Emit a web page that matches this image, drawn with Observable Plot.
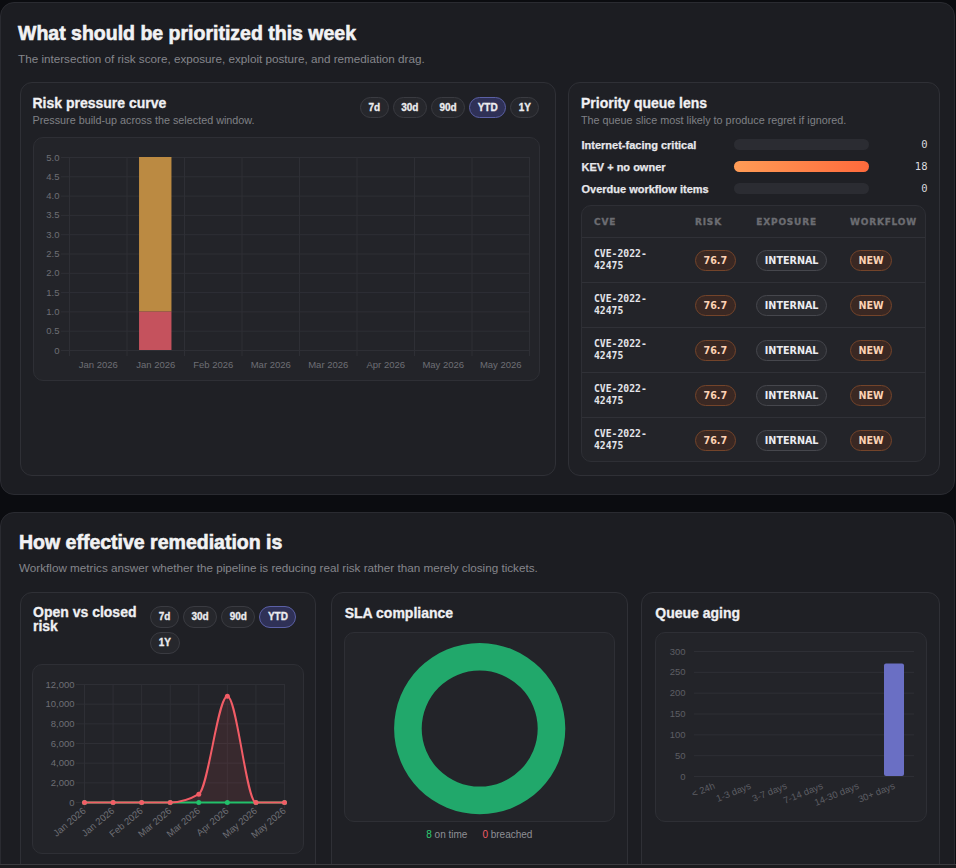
<!DOCTYPE html>
<html><head><meta charset="utf-8">
<script src="https://cdn.jsdelivr.net/npm/d3@7"></script>
<script src="https://cdn.jsdelivr.net/npm/@observablehq/plot@0.6"></script>
<style>
html,body{margin:0;padding:0;background:#0b0c10;width:956px;height:868px;overflow:hidden;font-family:"Liberation Sans",Arial,sans-serif;}
.section{position:absolute;background:#1c1d22;border:1px solid #2a2b31;border-radius:14px;box-sizing:border-box;}
.card{position:absolute;background:#1f2025;border:1px solid #2f3036;border-radius:12px;box-sizing:border-box;}
.box{position:absolute;background:#232429;border:1px solid #2e2f35;border-radius:10px;box-sizing:border-box;}
.h2{position:absolute;font-weight:bold;font-size:19.5px;line-height:20px;color:#f2f2f4;white-space:nowrap;-webkit-text-stroke:0.6px #f2f2f4;}
.sub{position:absolute;font-size:11.7px;line-height:14px;color:#85868c;white-space:nowrap;}
.h3{position:absolute;font-weight:bold;font-size:14px;line-height:16px;color:#f0f0f3;-webkit-text-stroke:0.3px #f0f0f3;}
.sub3{position:absolute;font-size:10.8px;line-height:13px;color:#7f8086;white-space:nowrap;}
.btns{position:absolute;display:flex;flex-wrap:wrap;gap:4px;}
.btn{box-sizing:border-box;border:1px solid #3a3b41;background:#26272c;border-radius:11px;color:#ececef;font-weight:bold;font-size:10px;display:flex;align-items:center;justify-content:center;padding:0 7.5px;-webkit-text-stroke:0.3px #ececef;}
.btn.on{background:#2f3157;border-color:#5b60a6;}
.plot{position:absolute;}
.th{position:absolute;top:0;height:32px;display:flex;align-items:center;font-family:"DejaVu Sans",sans-serif;font-weight:bold;font-size:9px;letter-spacing:0.8px;color:#6c6d72;-webkit-text-stroke:0.3px #6c6d72;}
.row{position:absolute;left:0;right:0;height:45px;border-top:1px solid #303137;box-sizing:border-box;}
.cell{position:absolute;top:0;bottom:0;display:flex;align-items:center;}
.cve{font-family:"DejaVu Sans Mono",monospace;font-weight:bold;font-size:9.75px;line-height:12.7px;color:#e4e4ea;width:60px;}
.pill{box-sizing:border-box;height:21px;border-radius:11px;padding:0 7.5px;display:inline-flex;align-items:center;font-family:"DejaVu Sans",sans-serif;font-weight:bold;font-size:9.6px;}
.pill.warm{background:#3a2823;border:1px solid #74442a;color:#fcd2b4;}
.pill.cool{background:#2a2b30;border:1px solid #46474d;color:#ececf0;}
.legend{position:absolute;display:flex;justify-content:center;gap:15px;font-size:10px;line-height:12px;color:#8e8f95;}
</style>
</head><body>
<div class="section" style="left:0;top:2px;width:955px;height:493px;"></div>
<div class="h2" style="left:18px;top:23px;">What should be prioritized this week</div>
<div class="sub" style="left:18px;top:52px;">The intersection of risk score, exposure, exploit posture, and remediation drag.</div>

<div class="card" style="left:19.5px;top:82px;width:536px;height:394px;"></div>
<div class="h3" style="left:32.5px;top:95.4px;">Risk pressure curve</div>
<div class="sub3" style="left:32.5px;top:113.8px;">Pressure build-up across the selected window.</div>
<div class="btns" id="btnsRisk" style="left:360px;top:96.7px;width:200px;"></div>
<div class="box" style="left:32.7px;top:137.3px;width:507.3px;height:243.4px;"></div>
<div class="plot" id="riskChart" style="left:33px;top:137.3px;"></div>

<div class="card" style="left:567.5px;top:82px;width:372px;height:394px;"></div>
<div class="h3" style="left:581px;top:95px;">Priority queue lens</div>
<div class="sub3" style="left:581px;top:113.8px;">The queue slice most likely to produce regret if ignored.</div>
<div class="plot" id="lensChart" style="left:581px;top:133px;"></div>
<div class="box" id="cveTable" style="left:581.3px;top:205px;width:345px;height:257.3px;background:#232429;"></div>

<div class="section" style="left:0;top:512px;width:955px;height:420px;"></div>
<div class="h2" style="left:19px;top:532.2px;">How effective remediation is</div>
<div class="sub" style="left:19px;top:560.6px;">Workflow metrics answer whether the pipeline is reducing real risk rather than merely closing tickets.</div>

<div class="card" style="left:19.7px;top:592px;width:296.6px;height:330px;"></div>
<div class="h3" style="left:33px;top:604.7px;width:112px;line-height:14.3px;">Open vs closed risk</div>
<div class="btns" id="btnsOpen" style="left:150.3px;top:605.7px;width:150px;"></div>
<div class="box" style="left:32.3px;top:664.3px;width:271.4px;height:190px;"></div>
<div class="plot" id="openChart" style="left:32.3px;top:664.3px;"></div>

<div class="card" style="left:330.7px;top:592px;width:297.3px;height:330px;"></div>
<div class="h3" style="left:344.7px;top:604.7px;">SLA compliance</div>
<div class="box" style="left:344px;top:631.7px;width:270.7px;height:190px;"></div>
<div class="plot" id="slaChart" style="left:344px;top:631.7px;"></div>
<div class="legend" id="slaLegend" style="left:344px;top:829px;width:270.7px;"></div>

<div class="card" style="left:641.3px;top:592px;width:298.4px;height:330px;"></div>
<div class="h3" style="left:655.3px;top:605.3px;">Queue aging</div>
<div class="box" style="left:655.3px;top:631.7px;width:271.4px;height:190px;"></div>
<div class="plot" id="agingChart" style="left:655.3px;top:631.7px;"></div>

<div style="position:absolute;left:0;top:864px;width:956px;height:4px;background:#1b1b1e;border-top:1px solid #3b3b3f;box-sizing:border-box;"></div>

<script>
// ---------- data ----------
const periods = ["7d", "30d", "90d", "YTD", "1Y"];
const activePeriod = "YTD";

const months = ["Jan 2026", "Jan 2026", "Feb 2026", "Mar 2026", "Mar 2026", "Apr 2026", "May 2026", "May 2026"];
const riskSeries = ["Critical", "High"];
const riskCritical = [0, 1, 0, 0, 0, 0, 0, 0];
const riskHigh = [0, 4, 0, 0, 0, 0, 0, 0];
const riskTicks = [0, 0.5, 1, 1.5, 2, 2.5, 3, 3.5, 4, 4.5, 5];

const lensLabels = ["Internet-facing critical", "KEV + no owner", "Overdue workflow items"];
const lensValues = [0, 18, 0];

const cveIds = ["CVE-2022-42475", "CVE-2022-42475", "CVE-2022-42475", "CVE-2022-42475", "CVE-2022-42475"];
const cveRisk = [76.7, 76.7, 76.7, 76.7, 76.7];
const cveExposure = ["INTERNAL", "INTERNAL", "INTERNAL", "INTERNAL", "INTERNAL"];
const cveWorkflow = ["NEW", "NEW", "NEW", "NEW", "NEW"];
const tableHeaders = ["CVE", "RISK", "EXPOSURE", "WORKFLOW"];

const openRisk = [0, 0, 0, 0, 850, 10800, 0, 0];
const closedRisk = [0, 0, 0, 0, 0, 0, 0, 0];
const openTicks = [0, 2000, 4000, 6000, 8000, 10000, 12000];

const slaLabels = ["on time", "breached"];
const slaCounts = [8, 0];

const agingBuckets = ["< 24h", "1-3 days", "3-7 days", "7-14 days", "14-30 days", "30+ days"];
const agingCounts = [0, 0, 0, 0, 0, 270];
const agingTicks = [0, 50, 100, 150, 200, 250, 300];

// ---------- styling ----------
const GRID = "#2e2f35";
const AXIS_FONT = "'Liberation Sans', Arial, sans-serif";
const baseStyle = {background: "transparent", color: "#6e6f75", fontFamily: AXIS_FONT, fontSize: "9.5px", overflow: "visible"};

// ---------- buttons ----------
function buttons(id) {
  const el = document.getElementById(id);
  periods.forEach(p => {
    const b = document.createElement("div");
    b.className = "btn" + (p === activePeriod ? " on" : "");
    b.style.height = id === "btnsRisk" ? "21px" : "22px";
    b.textContent = p;
    el.appendChild(b);
  });
}
buttons("btnsRisk");
buttons("btnsOpen");

// ---------- risk pressure ----------
const riskRows = [];
months.forEach((m, i) => {
  riskRows.push({i, series: riskSeries[0], y1: 0, y2: riskCritical[i]});
  riskRows.push({i, series: riskSeries[1], y1: riskCritical[i], y2: riskCritical[i] + riskHigh[i]});
});
const barPad = 0.218;
document.getElementById("riskChart").appendChild(Plot.plot({
  width: 507, height: 243, marginLeft: 36, marginRight: 11, marginTop: 20, marginBottom: 30,
  style: baseStyle,
  x: {domain: [0, months.length], ticks: months.map((m, i) => i + 0.5), tickFormat: v => months[Math.floor(v)], tickSize: 0, tickPadding: 11, label: null},
  y: {domain: [0, 5], ticks: riskTicks, tickFormat: v => v === 0 ? "0" : v.toFixed(1), tickSize: 0, tickPadding: 10, label: null},
  color: {domain: riskSeries, range: ["#c5525d", "#bb8a42"]},
  marks: [
    Plot.ruleY(riskTicks, {stroke: GRID, insetLeft: -8}),
    Plot.ruleX(d3.range(months.length + 1), {stroke: GRID, insetBottom: -6}),
    Plot.rect(riskRows.filter(d => d.y2 > d.y1), {x1: d => d.i + barPad, x2: d => d.i + 1 - barPad, y1: "y1", y2: "y2", fill: "series"})
  ]
}));

// ---------- priority queue lens ----------
const lensRows = lensLabels.map((label, i) => ({label, value: lensValues[i]}));
const lensMax = d3.max(lensValues);
const lensSvg = Plot.plot({
  width: 346, height: 66, marginLeft: 153, marginRight: 58, marginTop: 0, marginBottom: 0,
  style: {background: "transparent", overflow: "visible", fontFamily: AXIS_FONT},
  x: {domain: [0, lensMax], axis: null},
  y: {domain: lensLabels, paddingInner: 0.5, paddingOuter: 0.25, axis: null},
  marks: [
    Plot.barX(lensRows, {y: "label", x1: 0, x2: lensMax, fill: "#2b2c32", rx: 5.5}),
    Plot.barX(lensRows.filter(d => d.value > 0), {y: "label", x: "value", fill: "url(#lensGrad)", rx: 5.5}),
    Plot.text(lensRows, {y: "label", text: "label", frameAnchor: "left", textAnchor: "start", dx: -153, fill: "#e7e7eb", stroke: "#e7e7eb", strokeWidth: 0.25, fontWeight: "bold", fontSize: 11}),
    Plot.text(lensRows, {y: "label", text: d => String(d.value), frameAnchor: "right", textAnchor: "end", dx: 58, fill: "#d9d9de", fontFamily: "DejaVu Sans Mono, monospace", fontSize: 10.5})
  ]
});
{
  const ns = "http://www.w3.org/2000/svg";
  const defs = document.createElementNS(ns, "defs");
  const lg = document.createElementNS(ns, "linearGradient");
  lg.setAttribute("id", "lensGrad");
  [["0%", "#ff9c56"], ["100%", "#ff6a3c"]].forEach(([o, c]) => {
    const s = document.createElementNS(ns, "stop");
    s.setAttribute("offset", o); s.setAttribute("stop-color", c); lg.appendChild(s);
  });
  defs.appendChild(lg);
  lensSvg.insertBefore(defs, lensSvg.firstChild);
}
document.getElementById("lensChart").appendChild(lensSvg);

// ---------- CVE table ----------
{
  const t = document.getElementById("cveTable");
  const colX = [11.7, 112.7, 174, 267.7];
  let html = "";
  tableHeaders.forEach((h, j) => { html += `<div class="th" style="left:${colX[j]}px">${h}</div>`; });
  cveIds.forEach((id, i) => {
    const parts = id.split("-");
    const idHtml = parts.slice(0, 2).join("-") + "-<wbr>" + parts.slice(2).join("-");
    html += `<div class="row" style="top:${31.3 + 45 * i}px">
      <div class="cell" style="left:${colX[0]}px"><div class="cve">${idHtml}</div></div>
      <div class="cell" style="left:${colX[1]}px"><span class="pill warm">${cveRisk[i].toFixed(1)}</span></div>
      <div class="cell" style="left:${colX[2]}px"><span class="pill cool">${cveExposure[i]}</span></div>
      <div class="cell" style="left:${colX[3]}px"><span class="pill warm">${cveWorkflow[i]}</span></div>
    </div>`;
  });
  t.innerHTML = html;
}

// ---------- open vs closed ----------
const openRows = openRisk.map((v, i) => ({i, v}));
const closedRows = closedRisk.map((v, i) => ({i, v}));
document.getElementById("openChart").appendChild(Plot.plot({
  width: 271, height: 190, marginLeft: 52, marginRight: 19, marginTop: 20, marginBottom: 52,
  style: baseStyle,
  x: {domain: [0, months.length - 1], ticks: d3.range(months.length), tickFormat: i => months[i], tickRotate: -40, tickSize: 0, tickPadding: 7, label: null},
  y: {domain: [0, 12000], ticks: openTicks, tickFormat: d3.format(","), tickSize: 0, tickPadding: 10, label: null},
  marks: [
    Plot.ruleY(openTicks, {stroke: GRID, insetLeft: -8}),
    Plot.ruleX(d3.range(months.length), {stroke: GRID, insetBottom: -6}),
    Plot.areaY(openRows, {x: "i", y: "v", curve: "monotone-x", fill: "#f25c66", fillOpacity: 0.1}),
    Plot.line(closedRows, {x: "i", y: "v", stroke: "#22c06a", strokeWidth: 2}),
    Plot.dot(closedRows, {x: "i", y: "v", fill: "#22c06a", r: 2.5}),
    Plot.line(openRows, {x: "i", y: "v", stroke: "#f25c66", strokeWidth: 2, curve: "monotone-x"}),
    Plot.dot(openRows, {x: "i", y: "v", fill: "#f25c66", r: 2.5})
  ]
}));

// ---------- SLA donut ----------
const slaColors = ["#21a86b", "#f25c66"];
document.getElementById("slaChart").appendChild(Plot.plot({
  width: 270, height: 190, margin: 0,
  style: {background: "transparent", overflow: "visible"},
  marks: [
    (index, scales, values, dims) => {
      const g = d3.create("svg:g").attr("transform", `translate(${dims.width / 2 + 0.7},${dims.height / 2 + 1.6})`);
      const rOuter = 85.6, rInner = 58;
      const arcs = d3.pie().sort(null)(slaCounts);
      g.selectAll("path").data(arcs.filter(a => a.endAngle > a.startAngle)).join("path")
        .attr("d", d3.arc().innerRadius(rInner).outerRadius(rOuter))
        .attr("fill", d => slaColors[d.index]);
      return g.node();
    }
  ]
}));
document.getElementById("slaLegend").innerHTML = slaLabels.map((l, i) =>
  `<span><span style="color:${i === 0 ? "#2ecc71" : "#f25c66"}">${slaCounts[i]}</span> ${l}</span>`).join("");

// ---------- queue aging ----------
const agingRows = agingBuckets.map((b, i) => ({bucket: b, count: agingCounts[i]}));
document.getElementById("agingChart").appendChild(Plot.plot({
  width: 271, height: 190, marginLeft: 39, marginRight: 12, marginTop: 19, marginBottom: 46,
  style: {...baseStyle, color: "#5d5e64"},
  x: {domain: agingBuckets, paddingInner: 0.45, paddingOuter: 0.225, tickRotate: -22, tickSize: 0, tickPadding: 9, label: null},
  y: {domain: [0, 300], ticks: agingTicks, tickSize: 0, tickPadding: 9, label: null},
  marks: [
    Plot.ruleY(agingTicks, {stroke: GRID}),
    Plot.barY(agingRows.filter(d => d.count > 0), {x: "bucket", y: "count", fill: "#6a6fc4", rx: 2})
  ]
}));
</script>
</body></html>
